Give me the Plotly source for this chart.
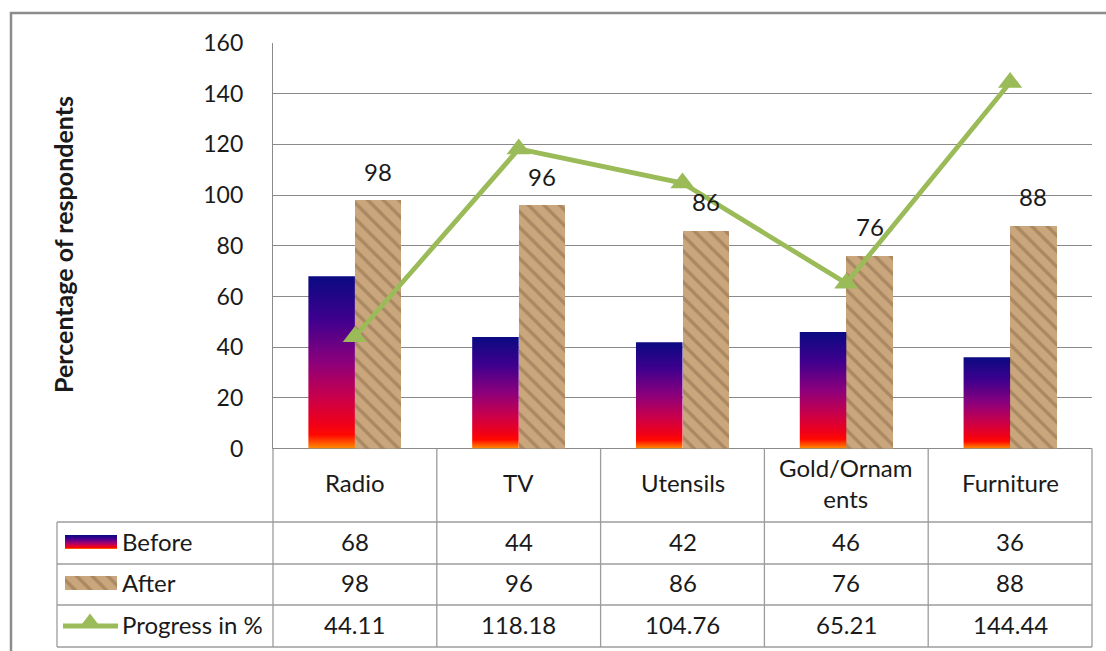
import plotly.graph_objects as go

# ---- data -------------------------------------------------------------
categories = ["Radio", "TV", "Utensils", "Gold/Ornaments", "Furniture"]
category_labels = ["Radio", "TV", "Utensils", "Gold/Ornam<br>ents", "Furniture"]
before = [68, 44, 42, 46, 36]
after = [98, 96, 86, 76, 88]
progress = [44.11, 118.18, 104.76, 65.21, 144.44]
series_names = ["Before", "After", "Progress in %"]
y_ticks = [0, 20, 40, 60, 80, 100, 120, 140, 160]
y_title = "Percentage of respondents"

# ---- styling / layout constants ----------------------------------------
W, H = 1106, 651
PL, PR, PT, PB = 57, 1092, 43, 647      # paper box in pixels
AX_LEFT, AX_BOTTOM = 273, 448.6         # plot area left / zero line
ROW_LINES = [522, 564, 605, 647]        # table row separators
ROW_CENTERS = [541, 582, 624]           # value rows
HEADER_CENTER = 483
BAR_W = 0.284                            # bar width in category units
LABEL_SHIFT = 29                         # data label offset above bar (px)

FONT = "Lato, 'Open Sans', Arial, sans-serif"
TEXT = "#1a1a1a"
GRID = "#8a8a8a"
TABLE_LINE = "#9c9c9c"
GREEN = "#9BBB59"
TAN = "#C9A67C"
BROWN = "#6E4E2C"
FS_TICK = 23
FS = 24
BEFORE_SCALE = [
    [0.00, "#FF9000"], [0.035, "#FF5200"], [0.08, "#FF0800"],
    [0.14, "#F00018"], [0.30, "#C8004C"], [0.50, "#8C007C"],
    [0.75, "#3E008E"], [1.00, "#0A0A82"],
]
TEXTURE = dict(shape="\\", bgcolor=TAN, fgcolor=BROWN,
               fgopacity=0.35, size=11, solidity=0.3)


def px(x):
    return (x - PL) / (PR - PL)


def py(y):
    return (PB - y) / (PB - PT)


def y2(y):
    # pixel row -> overlay axis value (zero at bottom of paper)
    return PB - y


fig = go.Figure()

# "Before" bars: vertical gradient fills, one polygon per category
for i, v in enumerate(before):
    x0, x1 = i - BAR_W, i
    fig.add_trace(go.Scatter(
        x=[x0, x0, x1, x1, x0], y=[0, v, v, 0, 0],
        mode="lines", line=dict(width=0), fill="toself",
        fillgradient=dict(type="vertical", colorscale=BEFORE_SCALE,
                          start=0, stop=v),
        name=series_names[0], showlegend=False, hoverinfo="skip",
    ))

# "After" bars: textured tan fill
fig.add_trace(go.Bar(
    x=[i + BAR_W / 2 for i in range(len(after))], y=after, width=BAR_W,
    marker=dict(color=TAN, line=dict(width=0), pattern=TEXTURE),
    name=series_names[1], showlegend=False,
))

# Progress line
fig.add_trace(go.Scatter(
    x=list(range(len(progress))), y=progress, mode="lines+markers",
    line=dict(color=GREEN, width=4.8),
    marker=dict(symbol="triangle-up", size=21, color=GREEN),
    name=series_names[2], showlegend=False, cliponaxis=False,
))

# data labels over the "After" bars
for i, v in enumerate(after):
    fig.add_annotation(x=i + BAR_W / 2, y=v, xref="x", yref="y",
                       text=str(v), showarrow=False, yanchor="middle",
                       xanchor="center", yshift=LABEL_SHIFT,
                       font=dict(size=FS, color=TEXT))

# ---- data table underneath ---------------------------------------------
# legend keys (drawn on a pixel-scaled overlay axis pair)
sw_x0, sw_x1 = 65, 117
b_top, b_bot = y2(535), y2(549)
fig.add_trace(go.Scatter(
    x=[sw_x0, sw_x0, sw_x1, sw_x1, sw_x0], y=[b_bot, b_top, b_top, b_bot, b_bot],
    xaxis="x2", yaxis="y2", mode="lines", line=dict(width=0), fill="toself",
    fillgradient=dict(type="vertical", colorscale=BEFORE_SCALE,
                      start=b_bot, stop=b_top),
    showlegend=False, hoverinfo="skip",
))
a_top, a_bot = y2(576), y2(590)
fig.add_trace(go.Scatter(
    x=[sw_x0, sw_x0, sw_x1, sw_x1, sw_x0], y=[a_bot, a_top, a_top, a_bot, a_bot],
    xaxis="x2", yaxis="y2", mode="lines", line=dict(width=0), fill="toself",
    fillcolor=TAN, fillpattern=TEXTURE,
    showlegend=False, hoverinfo="skip",
))
fig.add_trace(go.Scatter(
    x=[63, 90, 118], y=[y2(626)] * 3, xaxis="x2", yaxis="y2",
    mode="lines", line=dict(color=GREEN, width=4.8),
    showlegend=False, hoverinfo="skip",
))
fig.add_trace(go.Scatter(
    x=[90], y=[y2(623)], xaxis="x2", yaxis="y2", mode="markers",
    marker=dict(symbol="triangle-up", size=19, color=GREEN),
    showlegend=False, hoverinfo="skip", cliponaxis=False,
))

shapes = []
line_style = dict(color=TABLE_LINE, width=1.3)
# horizontal row separators
for y in ROW_LINES:
    shapes.append(dict(type="line", xref="paper", yref="paper",
                       x0=px(PL), x1=px(PR), y0=py(y), y1=py(y), line=line_style))
# left edge of legend column
shapes.append(dict(type="line", xref="paper", yref="paper",
                   x0=px(PL), x1=px(PL), y0=py(ROW_LINES[0]), y1=py(PB), line=line_style))
# column separators
n = len(categories)
for k in range(n + 1):
    xx = AX_LEFT + k * (PR - AX_LEFT) / n
    shapes.append(dict(type="line", xref="paper", yref="paper",
                       x0=px(xx), x1=px(xx), y0=py(AX_BOTTOM), y1=py(PB), line=line_style))
# outer chart border
shapes.append(dict(type="rect", xref="paper", yref="paper",
                   x0=px(11), x1=px(1140), y0=py(690), y1=py(13),
                   line=dict(color="#8c8c8c", width=2.5), fillcolor="rgba(0,0,0,0)"))

# table text
for i, lab in enumerate(category_labels):
    fig.add_annotation(x=i, y=py(HEADER_CENTER), xref="x", yref="paper",
                       text=lab, showarrow=False, xanchor="center", yanchor="middle",
                       font=dict(size=FS, color=TEXT))
rows = [[str(v) for v in before], [str(v) for v in after],
        [f"{v:.2f}" for v in progress]]
for r, (name, vals) in enumerate(zip(series_names, rows)):
    fig.add_annotation(x=px(120), y=py(ROW_CENTERS[r]), xref="paper", yref="paper",
                       text=name, showarrow=False, xanchor="left", yanchor="middle",
                       font=dict(size=FS, color=TEXT))
    for i, t in enumerate(vals):
        fig.add_annotation(x=i, y=py(ROW_CENTERS[r]), xref="x", yref="paper",
                           text=t, showarrow=False, xanchor="center",
                           yanchor="middle", font=dict(size=FS, color=TEXT))

# axis title
fig.add_annotation(x=px(63), y=py(245), xref="paper", yref="paper",
                   text=f"<b>{y_title}</b>", showarrow=False, textangle=-90,
                   xanchor="center", yanchor="middle",
                   font=dict(size=25, color=TEXT))

fig.update_layout(
    width=W, height=H,
    margin=dict(l=PL, r=W - PR, t=PT, b=H - PB, autoexpand=False),
    paper_bgcolor="white", plot_bgcolor="rgba(0,0,0,0)",
    font=dict(family=FONT, color=TEXT),
    showlegend=False,
    shapes=shapes,
    bargap=0,
    xaxis=dict(domain=[px(AX_LEFT), 1], range=[-0.5, n - 0.5],
               showgrid=False, zeroline=False, showticklabels=False,
               showline=False, fixedrange=True),
    yaxis=dict(domain=[py(AX_BOTTOM), 1], range=[0, 160], tickvals=y_ticks,
               showgrid=True, gridcolor=GRID, gridwidth=1.2,
               zeroline=True, zerolinecolor=GRID, zerolinewidth=1.2,
               showline=True, linecolor=GRID, linewidth=1.2,
               ticks="outside", ticklen=24, tickcolor="rgba(0,0,0,0)",
               tickfont=dict(size=FS_TICK, color=TEXT), fixedrange=True),
    xaxis2=dict(domain=[0, 1], range=[PL, PR], anchor="y2", visible=False,
                fixedrange=True),
    yaxis2=dict(domain=[0, 1], range=[0, PB - PT], anchor="x2", visible=False,
                fixedrange=True),
)

fig.write_html("out.html")
